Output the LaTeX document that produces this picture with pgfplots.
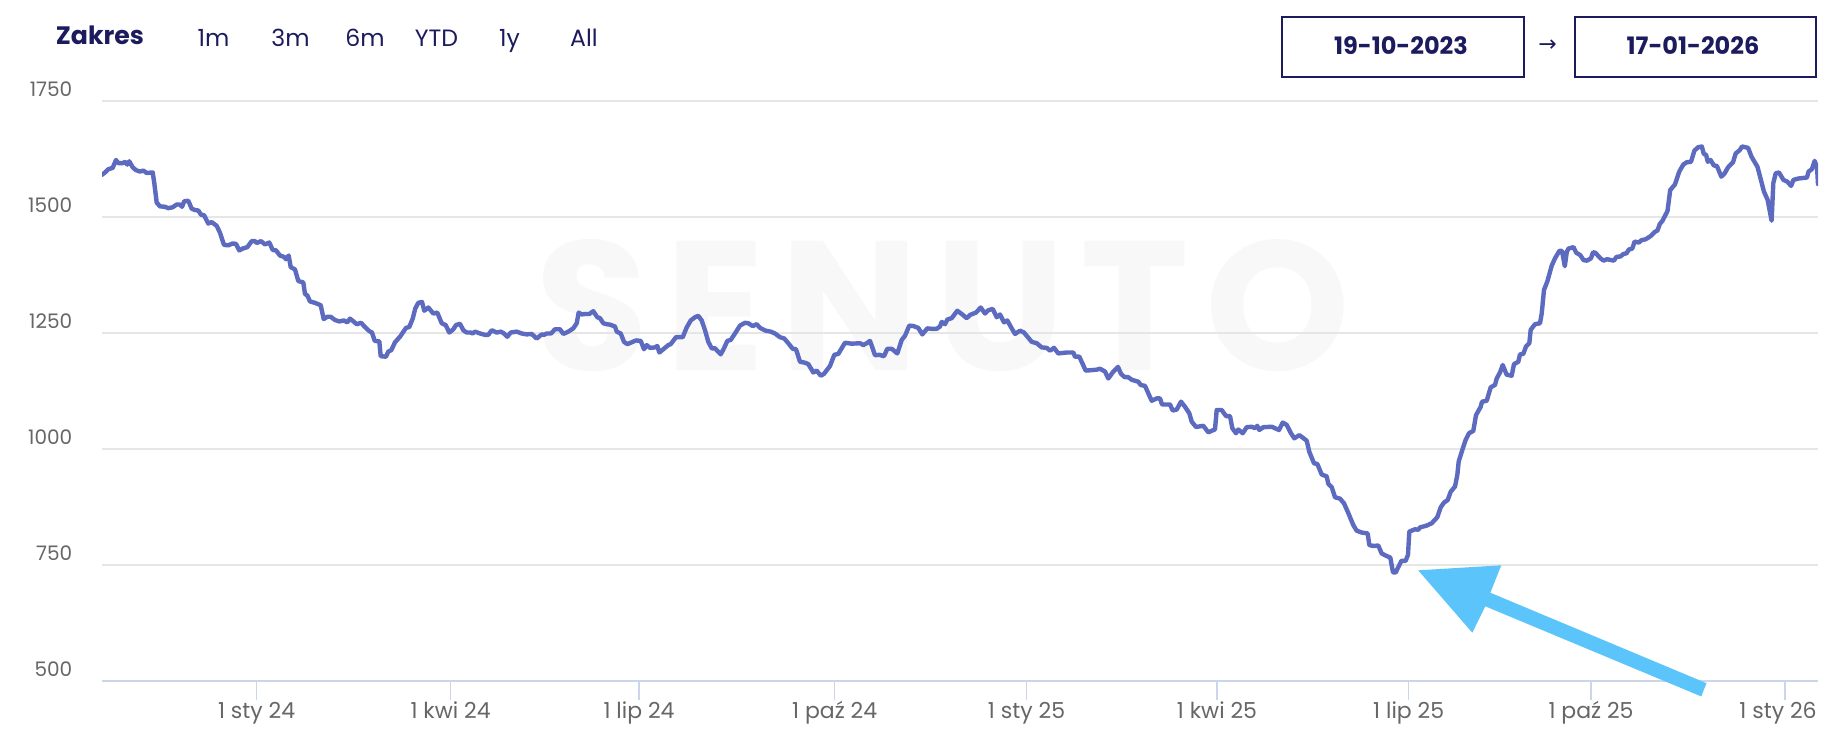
\documentclass[border=0pt]{standalone}
\usepackage{fontspec}
\setmainfont{Poppins}
\newfontfamily\arrowfont{DejaVu Sans}
\newfontfamily\wmfont[LetterSpace=8.7]{Poppins}
\usepackage{pgfplots}
\pgfplotsset{compat=1.18}
\definecolor{navy}{HTML}{1B1B5E}
\definecolor{lineblue}{HTML}{5C6BC0}
\definecolor{gridgray}{HTML}{E6E6E6}
\definecolor{axisblue}{HTML}{CCD6EB}
\definecolor{labelgray}{HTML}{666666}
\definecolor{arrowblue}{HTML}{5BC4FA}
\definecolor{wm}{HTML}{F8F8F8}
\begin{document}
\begin{tikzpicture}[x=0.5pt,y=-0.5pt]
\path[use as bounding box,fill=white] (0,0) rectangle (1848,746);
\node[anchor=center,text=wm,font=\wmfont\fontsize{92}{92}\selectfont\bfseries,inner sep=0pt] at (943,306) {SENUTO};
\begin{axis}[
  at={(51pt,-340.5pt)},anchor=south west,
  scale only axis,width=858pt,height=290pt,
  xmin=102,xmax=1818,ymin=500,ymax=1750,
  axis x line=bottom,axis y line=left,
  x axis line style={-,draw=axisblue,line width=1pt},
  y axis line style={draw=none},
  ytick={500,750,1000,1250,1500,1750},
  xtick={256.6,450.6,639,834.7,1026.5,1217,1408.7,1591,1785},
  xticklabels={1 sty 24,1 kwi 24,1 lip 24,1 paź 24,1 sty 25,1 kwi 25,1 lip 25,1 paź 25,{1 sty 26\hspace*{7pt}}},
  tick align=outside,
  x tick style={draw=axisblue,line width=0.6pt},
  y tick style={draw=none},
  major tick length=9.5pt,
  ymajorgrids,
  grid style={draw=gridgray,line width=1pt},
  /pgf/number format/1000 sep={},
  /pgf/number format/assume math mode=true,
  tick label style={text=labelgray,inner sep=0pt},
  xticklabel style={font=\fontsize{11}{12}\selectfont,anchor=base,yshift=-9pt},
  yticklabel style={font=\fontsize{10}{12}\selectfont,anchor=east,xshift=-5.2pt,yshift=6pt},
]
\addplot[lineblue,line width=2.2pt,line join=round,line cap=round] table {
102 1591
105 1596
108.3 1603
112.7 1606
116 1623
118.3 1616
122.7 1616
125 1619
127.3 1613
129.3 1620
132.7 1607
136 1601
140 1598
143.3 1600
146.7 1595
152.7 1596
154.3 1573
156.7 1531
160 1523
165 1522
168.3 1519
172.7 1521
176.7 1527
180 1527
182 1522
184.3 1534
188.3 1535
191.7 1518
195 1515
198.3 1514
201 1505
204 1504
208.3 1486
211.7 1489
216.7 1481
220 1466
224 1440
228.3 1439
232.7 1443
236 1442
239.3 1428
242.7 1432
247.3 1435
251.7 1448
255 1448
256.7 1444
261 1448
265 1441
269.3 1445
272.7 1429
276 1428
280 1417
284 1414
286 1409
288.7 1417
290.7 1392
295 1387
298.3 1362
303.3 1359
305 1334
307.3 1331
310 1318
315 1315
320.7 1310
323.7 1280
327.3 1285
330.7 1285
335 1278
339.3 1275
344 1277
347.3 1273
350 1281
354 1274
356.7 1269
361 1272
365 1263
369.3 1254
372 1251
374.7 1233
379.3 1232
380.7 1200
386 1199
388.3 1210
391.3 1213
395 1230
400 1242
406 1261
409.3 1263
412.7 1281
415.3 1303
418.3 1315
422 1317
424.3 1298
428.3 1305
433.3 1292
437.3 1294
441.7 1271
445.7 1267
449.3 1251
453.3 1258
456 1267
460 1270
463.3 1256
466.7 1251
470.7 1251
472.7 1249
475 1253
480 1249
485 1246
488.3 1246
491.7 1256
496.7 1251
500.7 1253
504 1249
507.3 1242
510.7 1251
516.7 1253
521.7 1249
526.7 1247
531.7 1248
536.7 1238
541.7 1247
544 1246
546.7 1249
551 1249
555 1258
560 1258
563.3 1248
568.3 1253
573.3 1260
576.7 1271
578.7 1294
581.7 1290
585 1291
589.3 1291
593.3 1297
597.3 1284
600 1282
603.3 1271
606.7 1269
610 1268
615 1264
616.7 1253
620.7 1249
624 1231
627.3 1226
631.7 1230
636 1234
640.7 1233
644 1215
646.7 1224
650 1218
655 1219
657.3 1222
659.3 1208
663.3 1215
668.3 1224
670.7 1226
676 1241
682.7 1241
686.7 1262
690.7 1277
695 1284
698.3 1287
701.7 1277
705 1256
708.3 1231
711.7 1217
715 1217
720.7 1204
724 1217
727.3 1233
730.7 1235
735 1249
740 1266
745 1272
748.3 1271
752.7 1265
756.7 1269
760 1261
765.7 1255
770.7 1253
775 1249
780 1241
784.3 1238
788.3 1228
792.7 1216
796 1215
800 1188
805 1186
808.3 1183
813.3 1165
816.7 1169
820.7 1158
824 1162
830 1179
834.3 1203
838.3 1205
845 1229
851.7 1227
860 1228
863.3 1224
866.7 1228
870 1233
872 1221
875 1202
879.3 1203
884 1200
887.3 1216
891.7 1216
897.3 1206
901.7 1235
905 1244
909.3 1266
913.3 1265
918.3 1261
922.3 1247
927.3 1260
931.7 1259
936.7 1259
940 1264
941.7 1274
945 1269
947.3 1279
951.7 1282
957.3 1298
961.7 1291
966.7 1282
970 1289
976 1294
980.7 1305
985 1292
988.3 1299
992.7 1302
996.7 1284
1000 1290
1004 1273
1007.3 1277
1011.7 1260
1015 1248
1020 1255
1024 1251
1031.7 1231
1036.7 1228
1041.7 1219
1046.7 1218
1050 1212
1054 1218
1058.3 1206
1066.7 1208
1073.3 1208
1075 1199
1079.3 1199
1085.7 1169
1091.7 1170
1096.7 1171
1100 1173
1105 1167
1108.3 1152
1113 1166
1118 1177
1121 1162
1124.6 1155
1128 1155
1132 1149
1138.3 1145
1140.7 1138
1145 1136
1148.3 1120
1151.7 1104
1156.7 1109
1160 1109
1162 1096
1170 1096
1172.7 1083
1176.7 1085
1181 1102
1185 1091
1189.3 1077
1191.7 1059
1196 1047.5
1203.3 1050
1208.3 1036
1215 1042.4
1216.7 1084
1221.7 1084
1226 1071
1230 1071
1232.3 1045
1236 1034
1238.3 1042
1242.7 1034
1246.7 1047
1251.7 1048
1255 1045
1257.3 1050
1259.3 1041
1263.3 1047
1271.7 1048
1279 1041
1282.7 1057
1286.7 1052
1290.7 1035
1294.3 1023
1299.3 1030
1306.7 1018
1309.3 994
1314 969
1317.3 968
1321.7 945
1326.7 941
1328.3 925
1331.7 918
1335 896
1340 893
1344 883
1348.3 862
1353.3 836
1356.7 824
1361.7 820
1367.7 818
1369.3 793
1373.3 791
1378.3 792
1381.6 775
1386 770
1390.3 766
1393 734
1395.7 734
1401.4 759
1405.6 759
1408 772
1409.3 822
1415 827
1418.3 826
1420 831
1426.7 835
1431.7 840
1437.3 853
1440.7 874.5
1444 884.6
1447.7 890
1450.7 908
1455 919
1457.3 944
1458.7 973
1462.3 998
1465.7 1020
1469 1034
1473.3 1039
1476 1073
1480.7 1091
1482 1102
1486.7 1104
1490.7 1133
1495 1138
1496.7 1152
1500 1165
1502.7 1181
1506.7 1160
1511.7 1158
1514 1183
1518.3 1188
1520 1204
1523.3 1205
1526 1221
1529.3 1228
1530.7 1257
1535 1269
1540 1271
1541.7 1292
1544 1343
1547.3 1361
1551.7 1395
1555 1411
1559.4 1427
1562 1427
1564.8 1394
1566.8 1425
1568.5 1432
1573.5 1435
1576.2 1423
1580.2 1418
1583.6 1407
1586.9 1406
1591 1411
1593 1424
1595.3 1423
1600.4 1411
1603.7 1406
1607 1409
1613.8 1406
1616.5 1414
1620.5 1415
1623.2 1420
1626.6 1422
1628.9 1430
1632.3 1432
1634.6 1447
1639 1445
1641.3 1450
1645.7 1452
1650.7 1459
1654.8 1468
1657.5 1471
1659.8 1485
1662.5 1492
1667.5 1513
1670.2 1558
1674.9 1570
1679.3 1598
1683.3 1613
1686.7 1618
1691 1619
1694.4 1643
1697.8 1650
1701.8 1652
1703.8 1636
1706.1 1634
1707.8 1619
1710.5 1623
1713.9 1611
1716.9 1610
1721.3 1587
1724.6 1594
1728 1607
1733 1618
1735.7 1637
1739.7 1644
1742.1 1652
1748.1 1649
1751.5 1630
1757.5 1608
1760.9 1580
1763.9 1555
1767.6 1537
1771.6 1492
1773.3 1573
1775.7 1594
1779 1596
1783.4 1580
1787.4 1576
1791.1 1567
1793.4 1580
1798.5 1583
1802.5 1584
1806.9 1585
1808.6 1598
1811.9 1603
1814.6 1621
1817 1608
1818 1571
};
\end{axis}
% annotation arrow
\fill[arrowblue] (1418.2,570.3) -- (1501.3,565.3) -- (1490.3,592.7) -- (1706.5,683.2) -- (1701.2,696.4) -- (1485.3,606.3) -- (1472.3,632.7) -- cycle;
% header
\node[text=navy,font=\fontsize{12.6}{14}\selectfont\bfseries,inner sep=0pt] at (100,35) {Zakres};
\foreach \x/\t in {213.6/1m,290.6/3m,365/6m,436.5/YTD,509.6/1y,584/All}
  \node[text=navy,font=\fontsize{11.8}{14}\selectfont,inner sep=0pt,anchor=base] at (\x,46) {\t};
\draw[navy,line width=1pt] (1282.4,16.7) rectangle (1523.5,77.3);
\draw[navy,line width=1pt] (1574.6,16.7) rectangle (1815.6,77.3);
\node[text=navy,font=\fontsize{12}{14}\selectfont\bfseries,inner sep=0pt,anchor=base] at (1401,54) {19-10-2023};
\node[text=navy,font=\fontsize{12}{14}\selectfont\bfseries,inner sep=0pt,anchor=base] at (1693,54) {17-01-2026};
\node[text=navy,font=\fontsize{11}{14}\selectfont\arrowfont,inner sep=0pt] at (1547.5,46) {→};
\end{tikzpicture}
\end{document}
